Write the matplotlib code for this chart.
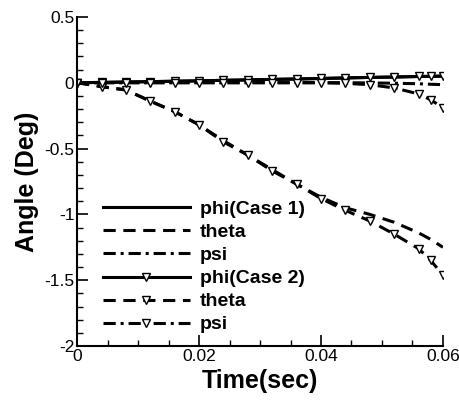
import matplotlib
matplotlib.use("Agg")
import matplotlib.pyplot as plt
from matplotlib.ticker import MultipleLocator

plt.rcParams['font.family'] = ['Liberation Sans', 'DejaVu Sans']

# time samples (sec)
t = [0.0, 0.004, 0.008, 0.012, 0.016, 0.020, 0.024, 0.028, 0.032,
     0.036, 0.040, 0.044, 0.048, 0.052, 0.056, 0.058, 0.060]

# Case 1
phi1 = [0.0, 0.002, 0.005, 0.008, 0.011, 0.014, 0.018, 0.021, 0.025,
        0.028, 0.032, 0.036, 0.040, 0.043, 0.047, 0.048, 0.050]
theta1 = [0.0, -0.03, -0.055, -0.14, -0.22, -0.32, -0.44, -0.55, -0.66,
          -0.77, -0.87, -0.95, -1.00, -1.06, -1.14, -1.19, -1.25]
psi1 = [0.0, 0.0, 0.0, 0.0, 0.0, 0.0, 0.0, 0.0, 0.0,
        0.0, 0.0, 0.0, -0.002, -0.004, -0.008, -0.012, -0.015]

# Case 2
phi2 = [0.0, 0.002, 0.005, 0.008, 0.011, 0.014, 0.018, 0.021, 0.025,
        0.028, 0.032, 0.036, 0.040, 0.043, 0.047, 0.048, 0.050]
theta2 = [0.0, -0.03, -0.055, -0.14, -0.22, -0.32, -0.45, -0.55, -0.67,
          -0.77, -0.88, -0.97, -1.05, -1.15, -1.26, -1.35, -1.46]
psi2 = [0.0, 0.0, 0.0, 0.0, 0.0, 0.0, 0.0, 0.0, 0.0,
        0.0, 0.0, -0.005, -0.015, -0.04, -0.085, -0.13, -0.19]

labels = ['phi(Case 1)', 'theta', 'psi', 'phi(Case 2)', 'theta', 'psi']

fig = plt.figure(figsize=(4.59, 4.01), dpi=100)
ax = fig.add_axes([0.168, 0.137, 0.797, 0.821])

lw = 2.2
dash = (4.0, 2.5)
dashdot = (4.0, 1.6, 1.0, 1.6)
mk = dict(marker='v', markersize=6, markerfacecolor='white',
          markeredgecolor='black', markeredgewidth=1.0)

ax.plot(t, phi1, color='black', lw=lw, label=labels[0])
ax.plot(t, theta1, color='black', lw=lw, ls=(0, dash), label=labels[1])
ax.plot(t, psi1, color='black', lw=lw, ls=(0, dashdot), label=labels[2])
ax.plot(t, phi2, color='black', lw=lw, label=labels[3], **mk)
ax.plot(t, theta2, color='black', lw=lw, ls=(0, dash), label=labels[4], **mk)
ax.plot(t, psi2, color='black', lw=lw, ls=(0, dashdot), label=labels[5], **mk)

ax.set_xlim(0, 0.06)
ax.set_ylim(-2, 0.5)
ax.xaxis.set_minor_locator(MultipleLocator(0.005))
ax.yaxis.set_minor_locator(MultipleLocator(0.1))
ax.set_xticks([0, 0.02, 0.04, 0.06])
ax.set_xticklabels(['0', '0.02', '0.04', '0.06'])
ax.set_yticks([-2, -1.5, -1, -0.5, 0, 0.5])
ax.set_yticklabels(['-2', '-1.5', '-1', '-0.5', '0', '0.5'])

for side in ['top', 'right']:
    ax.spines[side].set_visible(False)
for side in ['left', 'bottom']:
    ax.spines[side].set_linewidth(1.5)
ax.tick_params(which='major', direction='in', length=8, width=1.2,
               labelsize=12.5, pad=2)
ax.tick_params(which='minor', direction='in', length=4, width=1.0)

ax.set_xlabel('Time(sec)', fontsize=18, fontweight='bold', labelpad=4)
ax.set_ylabel('Angle (Deg)', fontsize=18, fontweight='bold', labelpad=4)

leg = ax.legend(loc='lower left', bbox_to_anchor=(0.035, 0.0), frameon=False,
                handlelength=4.5, handletextpad=0.5, labelspacing=0.28,
                borderpad=0.2, borderaxespad=0.45,
                prop={'size': 14, 'weight': 'bold'})

fig.savefig('out.png', dpi=100)
